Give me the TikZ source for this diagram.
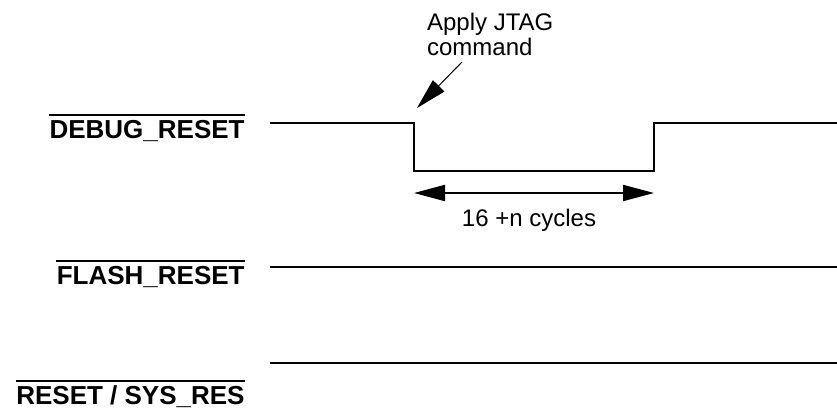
\documentclass[tikz,border=0pt]{standalone}
\usepackage{fontspec}
\setmainfont{Liberation Sans}
\usetikzlibrary{arrows.meta}
\tikzset{
  siglabel/.style={font=\bfseries\fontsize{13}{15}\selectfont,inner sep=0pt,
    text height=9.3pt,text depth=0pt,anchor=south east},
  sigline/.style={line width=1pt},
  notetext/.style={font=\fontsize{12}{11}\selectfont,inner sep=0pt},
  bigtip/.tip={Triangle[length=15.5pt,width=8pt]},
}

\begin{document}
\begin{tikzpicture}[x=0.5pt,y=-0.5pt]
  \useasboundingbox (0,0) rectangle (837,408);
  % signal names, active low
  \node[siglabel] (dbg) at (245,139.3) {DEBUG\_RESET};
  \node[siglabel] (fls) at (245,285) {FLASH\_RESET};
  \node[siglabel] (rst) at (245,405) {RESET / SYS\_RES};
  \foreach \n in {dbg,fls,rst}
    \draw[sigline] ([yshift=2.5pt]\n.north west) -- ([yshift=2.5pt]\n.north east);
  % waveforms
  \coordinate (fall) at (414,171);
  \coordinate (rise) at (654,171);
  \draw[sigline] (270,123) -| (fall) -- (rise) |- (837,123);
  \draw[sigline] (270,267) -- (837,267);
  \draw[sigline] (270,363) -- (837,363);
  % JTAG command note
  \node[notetext,align=left,anchor=north west] (cmd) at (426.7,13) {Apply JTAG\\command};
  \coordinate (tail) at (462,62);
  \coordinate (edge) at (417,108);
  \draw[line width=0.5pt,-bigtip] (tail) -- (edge);
  % pulse width
  \coordinate (lo) at (414,193);
  \coordinate (hi) at (654,193);
  \draw[sigline,bigtip-bigtip] (lo) -- (hi);
  \node[notetext,anchor=base] (cyc) at (529,226.7) {16 +n cycles};
\end{tikzpicture}
\end{document}
